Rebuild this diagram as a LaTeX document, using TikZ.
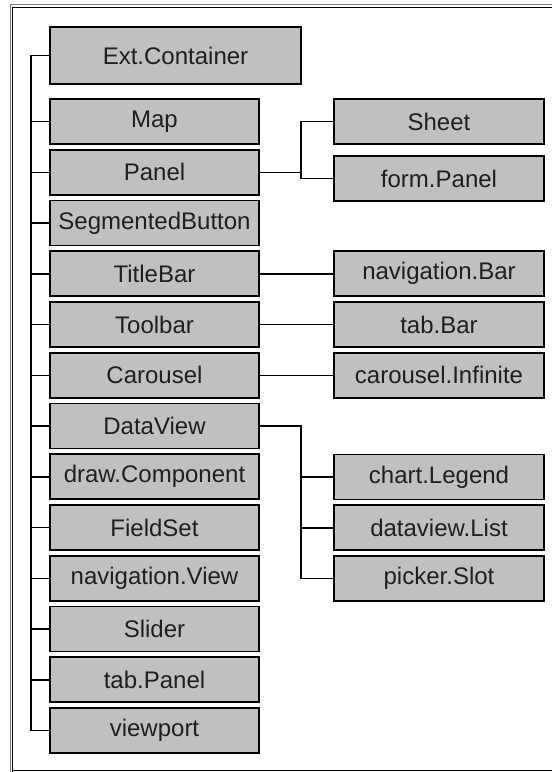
\documentclass[tikz,border=0pt]{standalone}
\usepackage{fontspec}
\setmainfont{Liberation Sans}
\usetikzlibrary{positioning}
\definecolor{boxgrey}{RGB}{191,192,194}
\definecolor{framegrey}{RGB}{125,125,125}

\begin{document}
\begin{tikzpicture}[x=0.5pt, y=-0.5pt,
    cls/.style={draw=black, line width=0.9pt, fill=boxgrey, text=black!88,
      minimum width=104.5pt, minimum height=22.5pt, inner sep=0pt,
      font=\fontsize{12}{14}\selectfont},
    sub/.style={cls, minimum width=105pt},
    wire/.style={line width=0.75pt}]
  \useasboundingbox (0,0) rectangle (552,772);

  % frame
  \draw[framegrey, line width=0.8pt] (10.5,772) -- (10.5,4.5) -- (552,4.5);
  \draw[line width=0.8pt] (12.5,772) -- (12.5,7.5) -- (552,7.5);
  \draw[line width=0.8pt] (12.5,770.5) -- (552,770.5);

  % left column
  \node[cls, minimum width=125.5pt, minimum height=28.5pt] (ext) at (175.5,55.5) {Ext.Container};
  \node[cls] (map) at (154.5,121.5) {Map};
  \node[cls] (panel) at (154.5,172.25) {Panel};
  \node[cls] (segbtn) at (154.5,223) {SegmentedButton};
  \node[cls] (titlebar) at (154.5,273.75) {TitleBar};
  \node[cls] (toolbar) at (154.5,324.5) {Toolbar};
  \node[cls] (carousel) at (154.5,375.25) {Carousel};
  \node[cls] (dataview) at (154.5,426) {DataView};
  \node[cls] (drawcmp) at (154.5,476.75) {draw.Component};
  \node[cls] (fieldset) at (154.5,527.5) {FieldSet};
  \node[cls] (navview) at (154.5,578.25) {navigation.View};
  \node[cls] (slider) at (154.5,629) {Slider};
  \node[cls] (tabpanel) at (154.5,679.75) {tab.Panel};
  \node[cls] (viewport) at (154.5,730.5) {viewport};

  % right column
  \node[sub] (sheet) at (439,121.5) {Sheet};
  \node[sub] (formpanel) at (439,178.5) {form.Panel};
  \node[sub] (navbar) at (439,273.75) {navigation.Bar};
  \node[sub] (tabbar) at (439,324.5) {tab.Bar};
  \node[sub] (carinf) at (439,375.25) {carousel.Infinite};
  \node[sub] (legend) at (439,477) {chart.Legend};
  \node[sub] (dvlist) at (439,527.75) {dataview.List};
  \node[sub] (slot) at (439,578.5) {picker.Slot};

  % trunk
  \coordinate (trunk) at (31,55.5);
  \draw[wire] (ext.west) -- (trunk) |- (viewport.west);
  \draw[wire] (map.west) -- (map.west -| trunk);
  \draw[wire] (panel.west) -- (panel.west -| trunk);
  \draw[wire] (segbtn.west) -- (segbtn.west -| trunk);
  \draw[wire] (titlebar.west) -- (titlebar.west -| trunk);
  \draw[wire] (toolbar.west) -- (toolbar.west -| trunk);
  \draw[wire] (carousel.west) -- (carousel.west -| trunk);
  \draw[wire] (dataview.west) -- (dataview.west -| trunk);
  \draw[wire] (drawcmp.west) -- (drawcmp.west -| trunk);
  \draw[wire] (fieldset.west) -- (fieldset.west -| trunk);
  \draw[wire] (navview.west) -- (navview.west -| trunk);
  \draw[wire] (slider.west) -- (slider.west -| trunk);
  \draw[wire] (tabpanel.west) -- (tabpanel.west -| trunk);

  % branches
  \coordinate (fork) at (301,0);
  \draw[wire] (panel.east) -- (panel.east -| fork);
  \draw[wire] (sheet.west) -| (fork |- sheet.west) |- (formpanel.west);
  \draw[wire] (titlebar.east) -- (navbar.west);
  \draw[wire] (toolbar.east) -- (tabbar.west);
  \draw[wire] (carousel.east) -- (carinf.west);
  \draw[wire] (dataview.east) -| (fork |- dataview.east) |- (slot.west);
  \draw[wire] (legend.west) -- (legend.west -| fork);
  \draw[wire] (dvlist.west) -- (dvlist.west -| fork);
\end{tikzpicture}
\end{document}
